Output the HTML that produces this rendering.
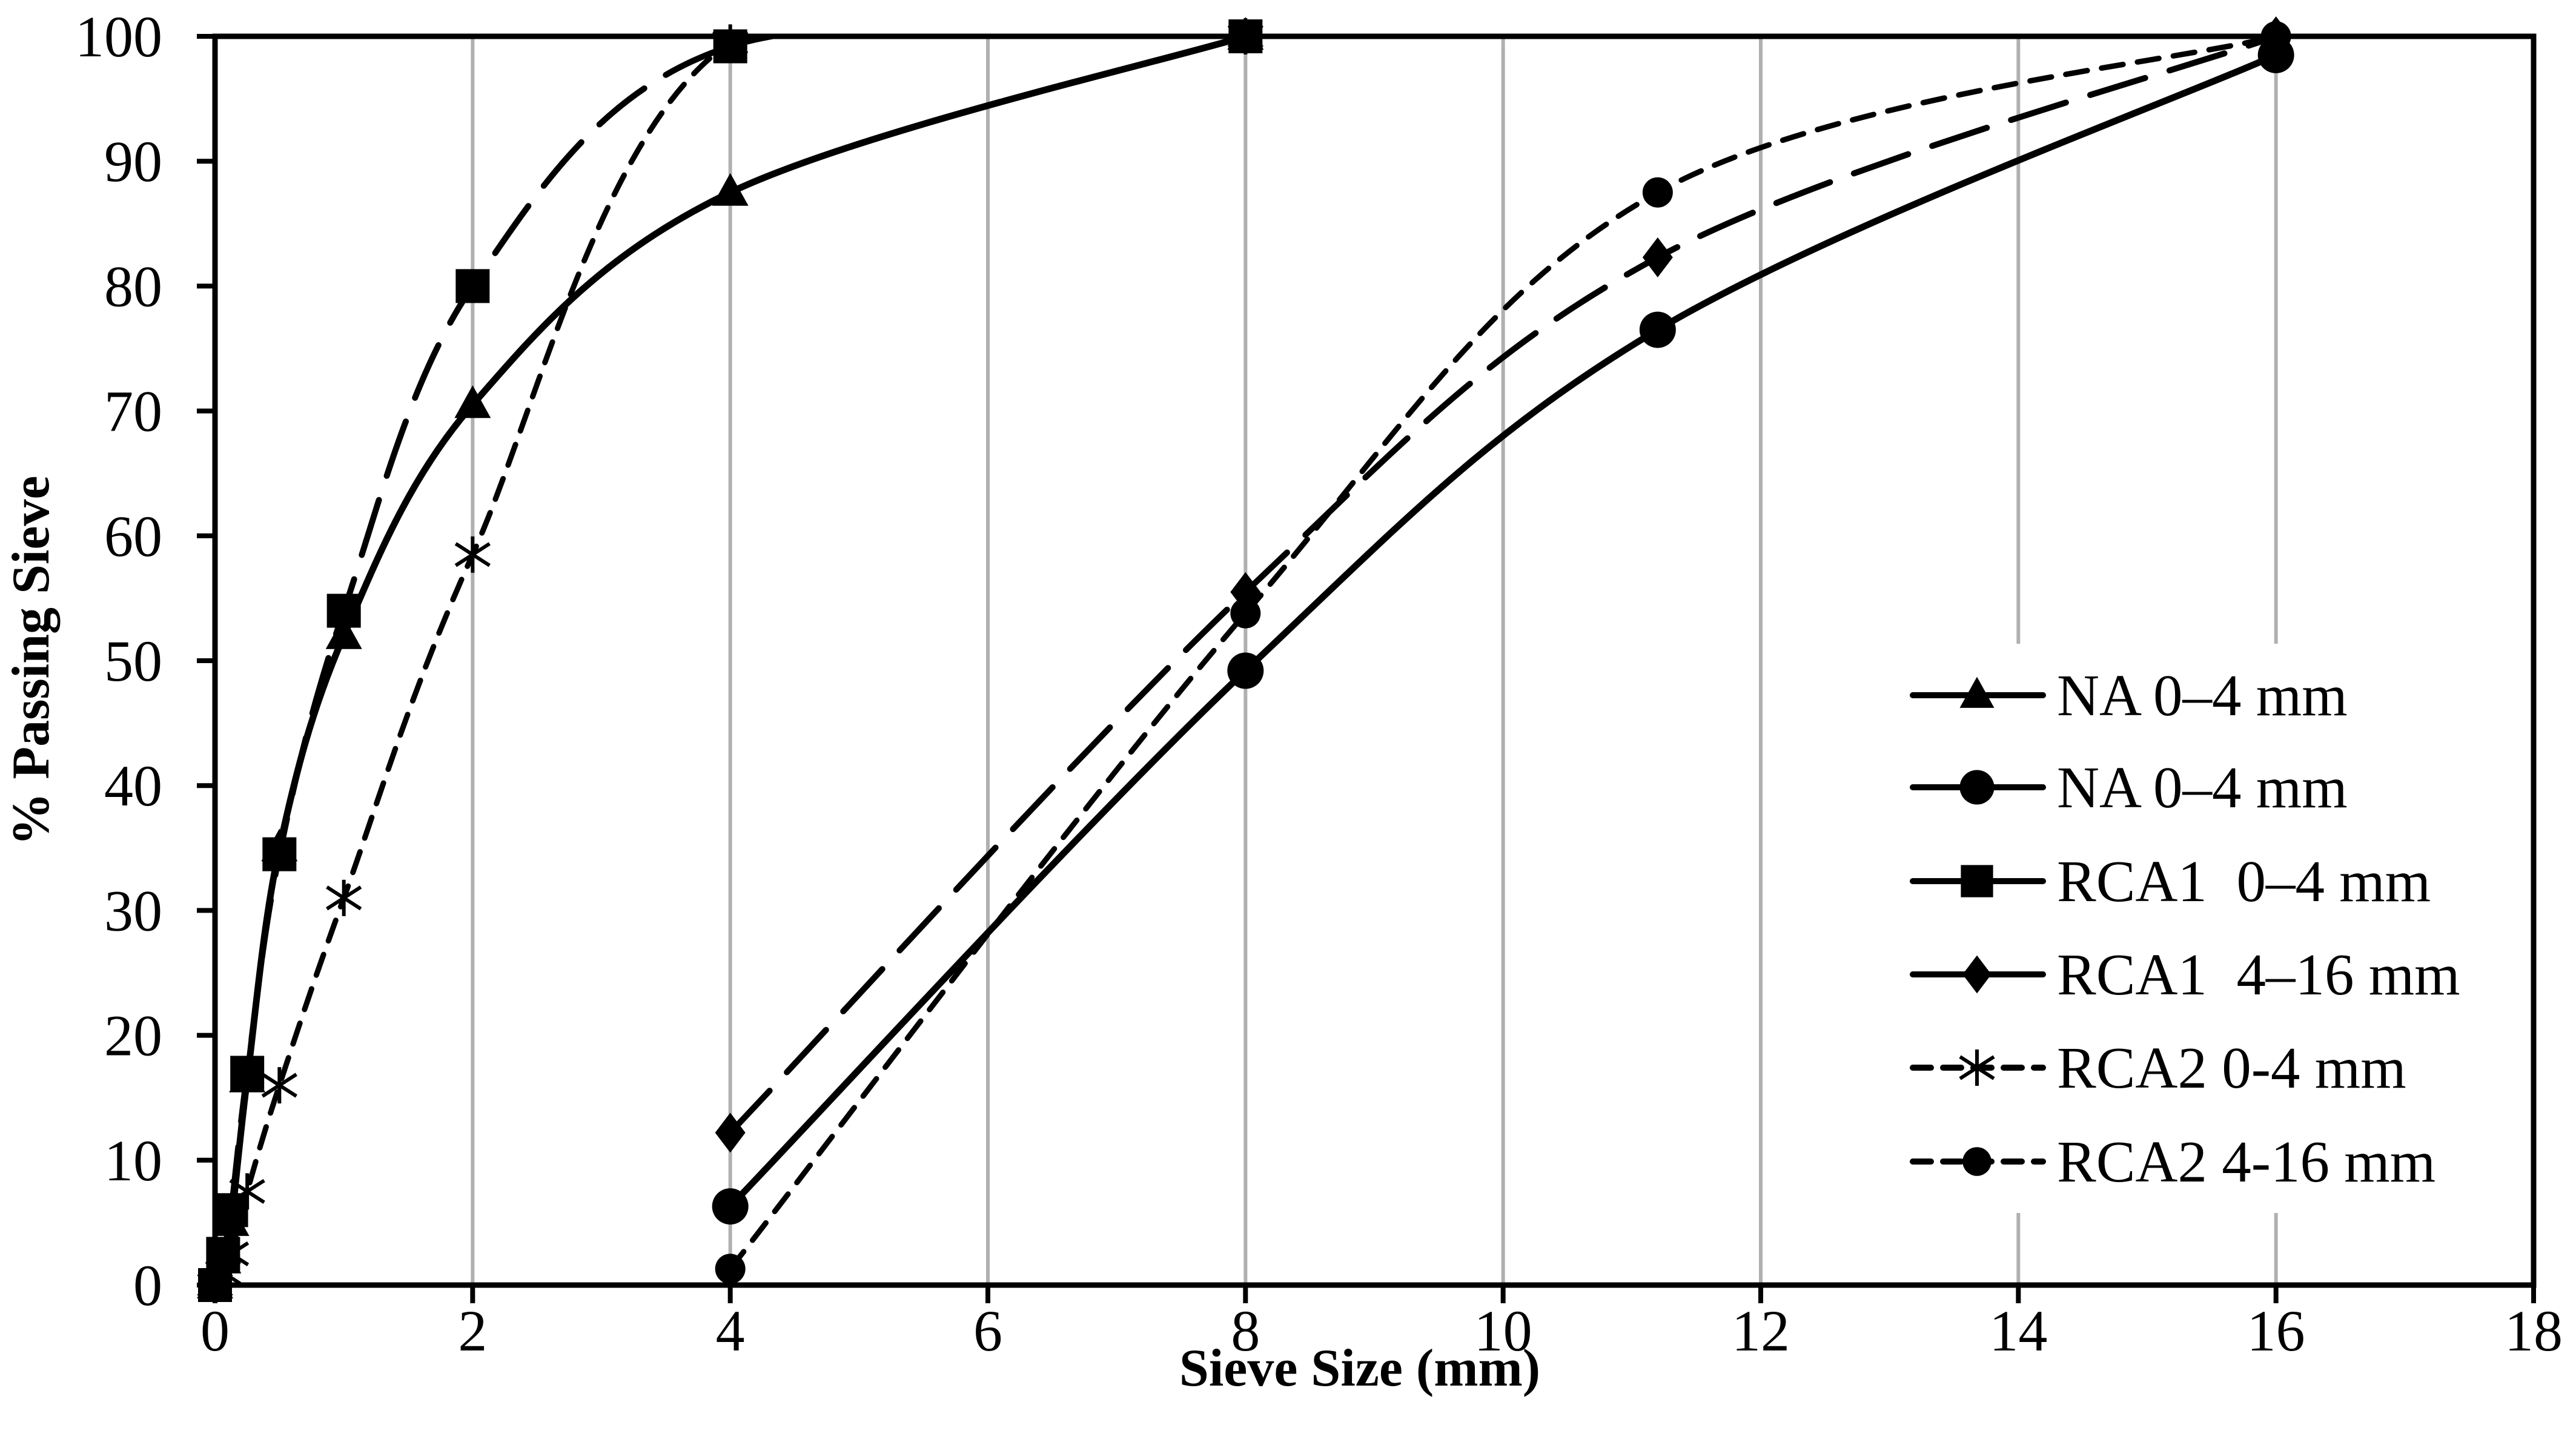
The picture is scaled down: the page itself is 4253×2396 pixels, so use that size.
<!DOCTYPE html>
<html><head><meta charset="utf-8"><style>
html,body{margin:0;padding:0;background:#fff;}
svg{display:block;}
text{font-family:"Liberation Serif","DejaVu Serif",serif;fill:#000;}
</style></head><body>
<svg id="chart" width="4253" height="2396" viewBox="0 0 4253 2396" xmlns="http://www.w3.org/2000/svg">
<defs><clipPath id="plotclip"><rect x="355" y="60" width="3828" height="2062"/></clipPath></defs>
<g id="grid"></g>
<g id="series" clip-path="url(#plotclip)"></g>
<g id="legend"></g>
<g id="axes"></g>
<g id="markers"></g>
<text x="2245" y="2288" text-anchor="middle" font-size="88" font-weight="bold">Sieve Size (mm)</text>
<text transform="translate(80,1091) rotate(-90)" text-anchor="middle" font-size="88" font-weight="bold">% Passing Sieve</text>
</svg>
<script>
const xTicks = [0,2,4,6,8,10,12,14,16,18];
const yTicks = [0,10,20,30,40,50,60,70,80,90,100];
const seriesNames = ["NA 0–4 mm","NA 0–4 mm","RCA1  0–4 mm","RCA1  4–16 mm","RCA2 0-4 mm","RCA2 4-16 mm"];
const fineSizes = [0,0.063,0.125,0.25,0.5,1,2,4,8];
const coarseSizes = [4,8,11.2,16];
const naFine = [0,2,5,16.5,35,52,70.5,87.5,100];
const naCoarse = [6.3,49.2,76.5,98.5];
const rca1Fine = [0,2.5,6,17,34.5,54,80,99.2,100];
const rca1Coarse = [12.2,55.5,82.3,100];
const rca2Fine = [0,1,2.5,7.5,16,31,58.5,99.5,100];
const rca2Coarse = [1.3,53.8,87.5,100];

const L=355,R=4183,T=60,B=2122;
const X=v=>L+(v-0)/18*(R-L);
const Y=v=>B-(v/100)*(B-T);
const NS="http://www.w3.org/2000/svg";
function mk(tag,attrs,parent){const e=document.createElementNS(NS,tag);for(const k in attrs)e.setAttribute(k,attrs[k]);parent.appendChild(e);return e;}
const grid=document.getElementById('grid'),axes=document.getElementById('axes'),sg=document.getElementById('series'),lg=document.getElementById('legend'),mg=document.getElementById('markers');

xTicks.forEach(t=>{
  if(t>0&&t<18){const g=mk('line',{x1:X(t),x2:X(t),y1:T,y2:B,stroke:'#b0b0b0','stroke-width':6},grid);
  
  }
  const tk=mk('line',{x1:X(t),x2:X(t),y1:B,y2:B+30,stroke:'#000','stroke-width':8},axes);
  
  
  const lb=mk('text',{x:X(t),y:B+108,'text-anchor':'middle','font-size':96},axes);lb.textContent=t;
  
  
});
yTicks.forEach(t=>{
  const tk=mk('line',{x1:L-30,x2:L,y1:Y(t),y2:Y(t),stroke:'#000','stroke-width':8},axes);
  
  
  const lb=mk('text',{x:268,y:Y(t)+33,'text-anchor':'end','font-size':96},axes);lb.textContent=t;
  
  
});
const box=mk('rect',{x:L,y:T,width:R-L,height:B-T,fill:'none',stroke:'#000','stroke-width':9},axes);



function spline(pts){
  let d=`M${pts[0][0]},${pts[0][1]}`;const t=0.5/3*2;
  for(let i=0;i<pts.length-1;i++){
    const p0=pts[i-1]||pts[i],p1=pts[i],p2=pts[i+1],p3=pts[i+2]||p2;
    const c1=[p1[0]+(p2[0]-p0[0])*t/2,p1[1]+(p2[1]-p0[1])*t/2];
    const c2=[p2[0]-(p3[0]-p1[0])*t/2,p2[1]-(p3[1]-p1[1])*t/2];
    d+=` C${c1[0]},${c1[1]} ${c2[0]},${c2[1]} ${p2[0]},${p2[1]}`;}
  return d;}

function marker(type,cx,cy,parent,s){
  s=s||1;let e;
  if(type==='tri') e=mk('polygon',{points:`${cx},${cy-32*s} ${cx+30*s},${cy+22*s} ${cx-30*s},${cy+22*s}`,fill:'#000'},parent);
  else if(type==='circ') e=mk('ellipse',{cx:cx,cy:cy,rx:30*s,ry:30*s,fill:'#000'},parent);
  else if(type==='sq') e=mk('rect',{x:cx-28*s,y:cy-28*s,width:56*s,height:56*s,fill:'#000'},parent);
  else if(type==='dia') e=mk('polygon',{points:`${cx},${cy-33*s} ${cx+25*s},${cy} ${cx},${cy+33*s} ${cx-25*s},${cy}`,fill:'#000'},parent);
  else if(type==='scirc') e=mk('ellipse',{cx:cx,cy:cy,rx:25*s,ry:25*s,fill:'#000'},parent);
  else { e=mk('path',{d:`M${cx-28},${cy-18}L${cx+28},${cy+18}M${cx-28},${cy+18}L${cx+28},${cy-18}M${cx},${cy-30}L${cx},${cy+30}`,stroke:'#000','stroke-width':6,fill:'none'},parent);}
  return e;}

const defs=[
 {xs:fineSizes,ys:naFine,m:'tri',dash:'',w:11,name:'na-fine'},
 {xs:coarseSizes,ys:naCoarse,m:'circ',dash:'',w:11,name:'na-coarse'},
 {xs:fineSizes,ys:rca1Fine,m:'sq',dash:'95 42',w:10,name:'rca1-fine'},
 {xs:coarseSizes,ys:rca1Coarse,m:'dia',dash:'95 42',w:10,name:'rca1-coarse'},
 {xs:fineSizes,ys:rca2Fine,m:'ast',dash:'36 24',w:9,name:'rca2-fine'},
 {xs:coarseSizes,ys:rca2Coarse,m:'scirc',dash:'36 24',w:9,name:'rca2-coarse'}];
defs.forEach(s=>{
  const pts=s.xs.map((x,i)=>[X(x),Y(s.ys[i])]);
  const p=mk('path',{d:spline(pts),fill:'none',stroke:'#000','stroke-width':s.w,'stroke-dasharray':s.dash,'stroke-linecap':'round'},sg);
  
  
  pts.forEach(pt=>{const m=marker(s.m,pt[0],pt[1],mg);
    
    });
});

const bg=mk('rect',{x:3125,y:1063,width:1020,height:940,fill:'#fff'},lg);


const legY=[1148,1300,1455,1609,1763,1918];
const legDash=['','','','','30 20','30 20'];
defs.forEach((s,i)=>{
  const g=mk('g',{},lg);
  
  
  mk('line',{x1:3158,x2:3373,y1:legY[i],y2:legY[i],stroke:'#000','stroke-width':10,'stroke-dasharray':legDash[i],'stroke-linecap':'round'},g);
  marker(s.m,3264,legY[i],g,0.95);
  const t=mk('text',{x:3396,y:legY[i]+33,'font-size':97},g);t.textContent=seriesNames[i];
  t.setAttribute('xml:space','preserve');t.style.whiteSpace='pre';
});
</script>
</body></html>
